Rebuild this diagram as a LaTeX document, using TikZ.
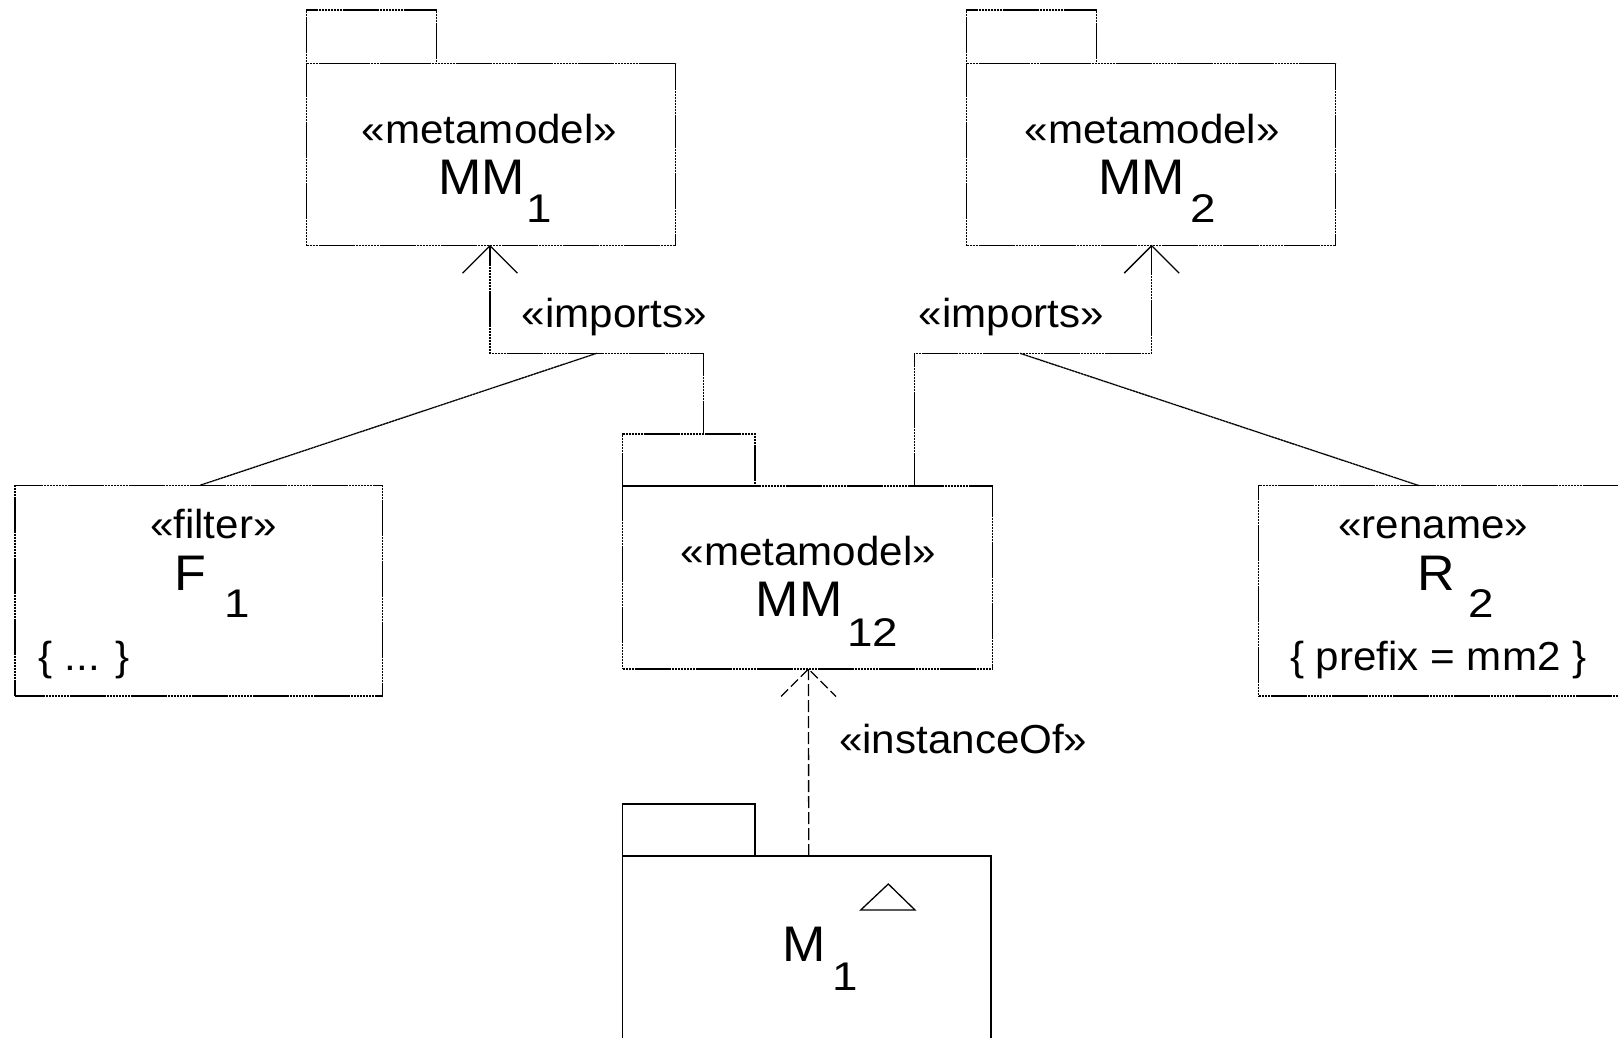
\documentclass[tikz,border=0pt]{standalone}
\usepackage{fontspec}
\setmainfont[FakeStretch=1.04]{Liberation Sans}
\newcommand\widedigits[1]{\scalebox{1.1}[1]{#1}}
\begin{document}
\begin{tikzpicture}[x=1pt,y=-1pt,
  outline/.style={draw, line width=1.3pt, dash pattern=on 2.6pt off 0.45pt},
  pkg/.style={outline, rectangle, inner sep=0pt, outer sep=0pt, anchor=north west},
  solidpkg/.style={draw, line width=1.3pt, rectangle, inner sep=0pt, outer sep=0pt, anchor=north west},
  conn/.style={outline},
  arm/.style={draw, line width=1.3pt},
  dep/.style={draw, line width=1.3pt, dash pattern=on 12pt off 4pt},
  stereo/.style={inner sep=0pt, anchor=base, font=\fontsize{40.5}{48}\selectfont},
  pkgname/.style={inner sep=0pt, anchor=base, font=\fontsize{50}{60}\selectfont},
  subidx/.style={inner sep=0pt, anchor=base, font=\fontsize{40}{48}\selectfont},
]
\useasboundingbox (0,0) rectangle (1618,1038);
\clip (0,0) rectangle (1618,1038);
\fill[white] (0,0) rectangle (1618,1038);

% --- package MM1 ---
\node[pkg, minimum width=369pt, minimum height=182.4pt] (mm1body) at (306.7,63.3) {};
\node[pkg, minimum width=130pt, minimum height=53.3pt] (mm1tab) at (306.7,10) {};
\node[stereo] (mm1st) at (489.5,143.3) {«metamodel»};
\node[pkgname] (mm1nm) at (481.7,195) {MM};
\node[subidx] (mm1ix) at (539.7,222.5) {\widedigits{1}};

% --- package MM2 ---
\node[pkg, minimum width=369pt, minimum height=182.4pt] (mm2body) at (966.7,63.3) {};
\node[pkg, minimum width=130pt, minimum height=53.3pt] (mm2tab) at (966.7,10) {};
\node[stereo] (mm2st) at (1152.2,143.3) {«metamodel»};
\node[pkgname] (mm2nm) at (1141.7,195) {MM};
\node[subidx] (mm2ix) at (1203,222.5) {\widedigits{2}};

% --- package MM12 ---
\node[pkg, minimum width=369.6pt, minimum height=183pt] (mm12body) at (622.7,486) {};
\node[pkg, minimum width=132.3pt, minimum height=52pt] (mm12tab) at (622.7,434) {};
\node[stereo] (mm12st) at (808.3,565) {«metamodel»};
\node[pkgname] (mm12nm) at (799.2,616.7) {MM};
\node[subidx] (mm12ix) at (872.5,646) {\widedigits{12}};

% --- model M1 ---
\node[solidpkg, minimum width=368.3pt, minimum height=200pt] (m1body) at (622.7,856) {};
\node[solidpkg, minimum width=132.3pt, minimum height=52pt] (m1tab) at (622.7,804) {};
\node[pkgname] (m1nm) at (804.5,961.7) {M};
\node[subidx] (m1ix) at (845.5,990) {\widedigits{1}};
\draw[arm] (860.7,910) -- (888.3,884) -- (915,910) -- cycle;

% --- filter F1 ---
\node[pkg, minimum width=367.7pt, minimum height=210.7pt] (f1) at (15,485.3) {};
\node[stereo] (f1st) at (213.3,538.3) {«filter»};
\node[pkgname] (f1nm) at (190.7,590) {F};
\node[subidx] (f1ix) at (237.5,617.5) {\widedigits{1}};
\node[stereo] (f1body) at (84.2,670) {\{ ... \}};

% --- rename R2 ---
\node[pkg, minimum width=366.3pt, minimum height=210.3pt] (r2) at (1258.7,485.7) {};
\node[stereo] (r2st) at (1433.3,538.3) {«rename»};
\node[pkgname] (r2nm) at (1435.8,590) {R};
\node[subidx] (r2ix) at (1480.8,617.5) {\widedigits{2}};
\node[stereo] (r2body) at (1438.3,670) {\{ prefix = mm2 \}};

% --- imports MM12 -> MM1 ---
\coordinate (jL) at (703.3,353.3);
\coordinate (kL) at (490,353.3);
\coordinate (fL) at (596.7,353.3);
\coordinate (tipL) at ([xshift=183.3pt]mm1body.south west);
\draw[conn] ([xshift=80.6pt]mm12tab.north west) -- (jL) -- (kL) -- (tipL);
\draw[arm] (tipL) ++(-27.5,27.5) -- (tipL) -- ++(27.5,27.5);
\draw[conn] (fL) -- ([xshift=185pt]f1.north west);
\node[stereo] (impL) at (614.2,327) {«imports»};

% --- imports MM12 -> MM2 ---
\coordinate (jR) at (914.3,353.3);
\coordinate (kR) at (1151.7,353.3);
\coordinate (fR) at (1020,353.3);
\coordinate (tipR) at ([xshift=185pt]mm2body.south west);
\draw[conn] ([xshift=291.6pt]mm12body.north west) -- (jR) -- (kR) -- (tipR);
\draw[arm] (tipR) ++(-27.5,27.5) -- (tipR) -- ++(27.5,27.5);
\draw[conn] (fR) -- ([xshift=160.6pt]r2.north west);
\node[stereo] (impR) at (1011.3,327) {«imports»};

% --- instanceOf M1 -> MM12 ---
\coordinate (tipI) at ([xshift=185.8pt]mm12body.south west);
\draw[dep] ([xshift=186pt]m1body.north west) -- (tipI);
\draw[dep, dash pattern=on 10pt off 4pt] (tipI) ++(-27.5,27.5) -- (tipI) -- ++(27.5,27.5);
\node[stereo] (inst) at (963.3,753) {«instanceOf»};
\end{tikzpicture}
\end{document}
